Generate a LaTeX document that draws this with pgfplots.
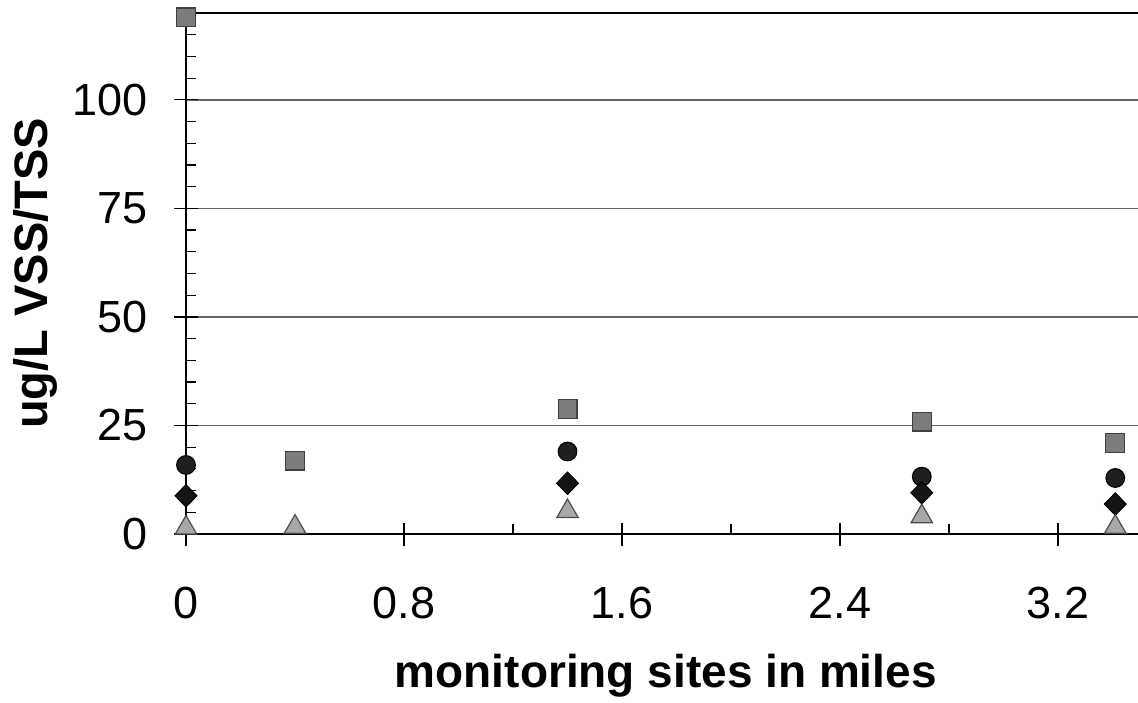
\documentclass[border=0pt]{standalone}
\usepackage{fontspec}
\setmainfont{Liberation Sans}
\usepackage{pgfplots}
\pgfplotsset{compat=1.18}
\definecolor{sqgray}{HTML}{7C7C7C}
\definecolor{trigray}{HTML}{A8A8A8}
\begin{document}
\begin{tikzpicture}
\begin{axis}[
    scale only axis,
    width=476.9pt, height=260.5pt,
    xmin=0, xmax=3.5,
    ymin=0, ymax=120,
    axis x line=bottom, axis y line=left,
    axis line style={-, black, line width=1.1pt},
    xtick={0,0.8,1.6,2.4,3.2},
    minor xtick={0.4,1.2,2.0,2.8},
    ytick={0,25,50,75,100},
    minor ytick={5,10,15,20,30,35,40,45,55,60,65,70,80,85,90,95,105,110,115},
    tick align=center,
    major tick length=11.5pt,
    minor tick length=5pt,
    tick style={black, line width=0.6pt},
    minor x tick style={yshift=2.5pt},
    minor y tick style={xshift=2.5pt},
    ymajorgrids,
    major grid style={black!60, line width=0.7pt},
    extra y ticks={120},
    extra y tick labels={},
    extra y tick style={grid=major, major grid style={black, line width=1.1pt}, major tick length=0pt},
    ticklabel style={font=\fontsize{22.5}{26}\selectfont},
    /pgf/number format/assume math mode=true,
    xticklabel style={anchor=north, yshift=-17.2pt},
    yticklabel style={anchor=east, xshift=-10pt},
    xlabel={\textbf{monitoring sites in miles}},
    xlabel style={font=\fontsize{23}{27}\selectfont, at={(axis description cs:0.503,-0.2937)}, anchor=base},
    ylabel={\textbf{ug/L VSS/TSS}},
    ylabel style={font=\fontsize{23.5}{27}\selectfont, at={(axis description cs:-0.1457,0.5)}, anchor=base},
    clip=false,
]
% squares
\addplot[only marks, mark=square*, mark size=4.7pt,
    mark options={fill=sqgray, draw=black!75, line width=0.6pt}]
    coordinates {(0,119) (0.4,16.9) (1.4,28.8) (2.7,25.9) (3.41,21.0)};
% circles
\addplot[only marks, mark=*, mark size=4.7pt,
    mark options={fill=black!88, draw=black, line width=0.5pt}]
    coordinates {(0,15.9) (1.4,19.0) (2.7,13.2) (3.41,12.9)};
% diamonds
\addplot[only marks, mark=diamond*, mark size=5.6pt,
    mark options={fill=black!92, draw=black, xscale=1.3, line width=0.5pt}]
    coordinates {(0,8.8) (1.4,11.7) (2.7,9.5) (3.41,6.9)};
% triangles
\addplot[only marks, mark=triangle*, mark size=6.2pt,
    mark options={fill=trigray, draw=black!70, line width=0.6pt, yshift=-1.5pt}]
    coordinates {(0,2.1) (0.4,2.3) (1.4,5.9) (2.7,4.7) (3.41,2.3)};
\end{axis}
\pgfresetboundingbox
\path[use as bounding box] (-93pt,-84pt) rectangle (476pt,267pt);
\end{tikzpicture}
\end{document}
